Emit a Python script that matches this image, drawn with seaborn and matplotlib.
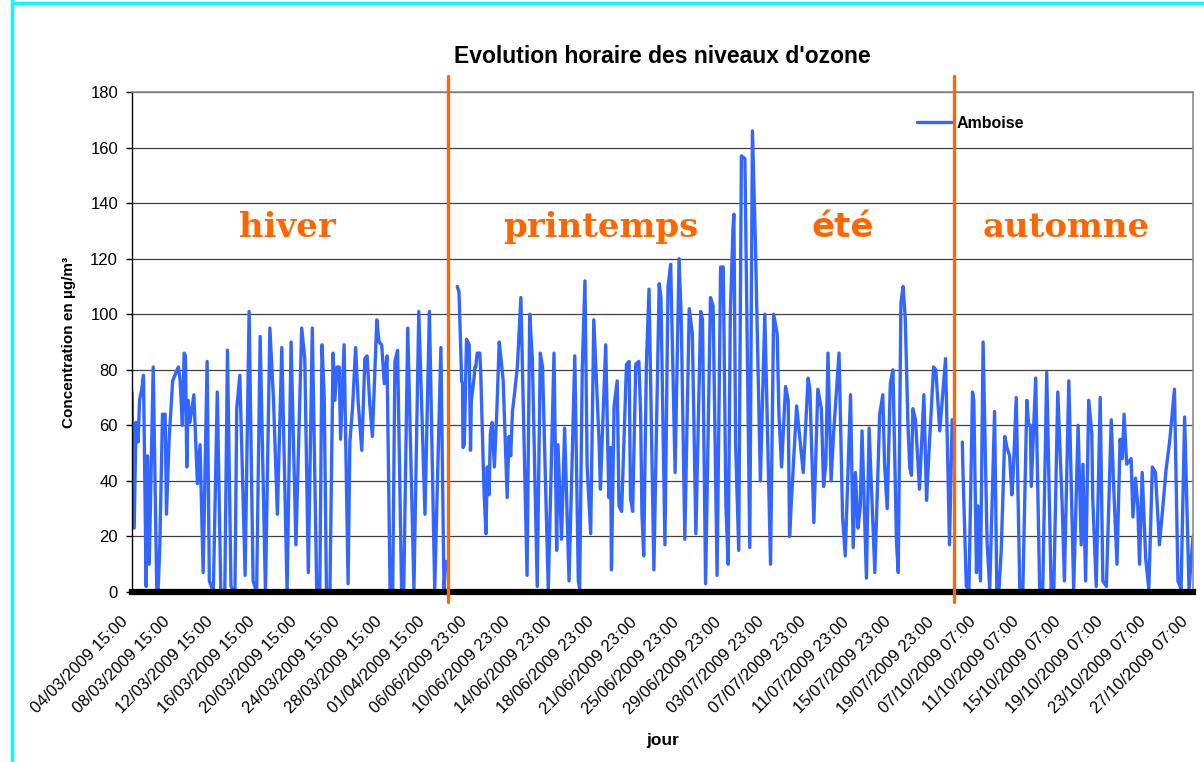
import matplotlib
matplotlib.use("Agg")
import matplotlib.pyplot as plt
from matplotlib.lines import Line2D
import matplotlib.transforms as mtransforms
import seaborn as sns
import pandas as pd

# ---------------- data ----------------
# hour index along the category axis (first point = 04/03/2009 15:00)
hiver_heures = [0, 5, 9, 14, 17, 22, 26, 32, 35, 39, 48, 56, 59, 63, 69, 75, 78, 84, 92, 97,
                105, 109, 114, 118, 121, 124, 127, 131, 140, 148, 154, 161, 170, 175, 184, 193, 201, 210, 216, 224,
                233, 237, 244, 256, 265, 274, 282, 290, 302, 312, 320, 329, 339, 351, 360, 371, 384, 391, 399, 408,
                418, 425, 430, 435, 440, 448, 455, 459, 464, 469, 472, 480, 489, 493, 499, 506, 512, 520, 527, 532,
                538, 544, 554, 559, 565, 571, 577, 584, 590, 595, 601, 610, 615, 624, 638, 649, 663, 673, 685, 699,
                706, 710]
hiver_valeurs = [72, 23, 61, 54, 69, 73, 78, 2, 49, 10, 81, 1, 0, 17, 64, 64, 28, 55, 76, 78,
                 81, 76, 60, 86, 85, 45, 69, 61, 71, 39, 53, 7, 83, 4, 0, 72, 0, 0, 87, 2,
                 0, 66, 78, 6, 101, 4, 0, 92, 0, 95, 70, 28, 88, 0, 90, 17, 95, 84, 7, 95,
                 1, 1, 89, 70, 1, 1, 86, 69, 81, 81, 55, 89, 3, 54, 66, 88, 68, 51, 84, 85,
                 68, 56, 98, 90, 89, 75, 85, 1, 1, 83, 87, 1, 1, 95, 1, 101, 28, 101, 1, 88,
                 1, 11]

printemps_ete_heures = [736, 740, 746, 748, 749, 752, 757, 763, 766, 768, 774, 776, 778, 781, 787, 789, 795, 797, 801, 804,
                        808, 811, 815, 820, 826, 831, 835, 840, 849, 853, 857, 861, 866, 872, 880, 894, 900, 906, 917, 924,
                        929, 942, 955, 961, 964, 972, 979, 989, 1002, 1010, 1013, 1019, 1025, 1030, 1038, 1045, 1057, 1060, 1064, 1072,
                        1079, 1083, 1085, 1091, 1098, 1102, 1108, 1119, 1125, 1128, 1133, 1140, 1147, 1151, 1154, 1158, 1164, 1170, 1181, 1193,
                        1197, 1206, 1213, 1219, 1229, 1238, 1243, 1251, 1261, 1268, 1276, 1287, 1291, 1298, 1309, 1315, 1324, 1332, 1338, 1344,
                        1349, 1354, 1360, 1362, 1366, 1373, 1379, 1387, 1398, 1404, 1411, 1422, 1432, 1445, 1452, 1460, 1464, 1470, 1479, 1485,
                        1488, 1494, 1504, 1519, 1530, 1534, 1543, 1552, 1560, 1565, 1570, 1575, 1582, 1588, 1600, 1608, 1614, 1626, 1632, 1637,
                        1643, 1648, 1652, 1662, 1668, 1673, 1681, 1686, 1692, 1699, 1703, 1709, 1716, 1722, 1730, 1734, 1740, 1745, 1750, 1756,
                        1760, 1764, 1767, 1773, 1782, 1792, 1798, 1803, 1814, 1819, 1828, 1841, 1850, 1856]
printemps_ete_valeurs = [110, 108, 76, 75, 52, 53, 91, 89, 51, 69, 77, 81, 81, 86, 86, 80, 45, 35, 21, 45,
                         35, 57, 61, 45, 67, 90, 84, 76, 34, 56, 49, 65, 72, 81, 106, 6, 100, 84, 2, 86,
                         81, 1, 86, 15, 53, 19, 59, 4, 85, 4, 1, 81, 112, 45, 21, 98, 54, 37, 55, 89,
                         34, 52, 8, 67, 76, 31, 29, 82, 83, 34, 29, 82, 83, 64, 28, 13, 82, 109, 8, 111,
                         106, 17, 110, 118, 43, 120, 98, 19, 102, 93, 21, 101, 98, 3, 106, 103, 6, 117, 117, 31,
                         10, 100, 131, 136, 53, 15, 157, 156, 16, 166, 124, 40, 100, 10, 100, 93, 64, 45, 74, 69,
                         20, 38, 67, 43, 77, 73, 25, 73, 66, 38, 46, 86, 40, 58, 86, 27, 13, 71, 16, 43,
                         23, 31, 58, 5, 59, 39, 7, 33, 64, 71, 46, 30, 75, 80, 18, 7, 104, 110, 98, 60,
                         45, 42, 66, 62, 37, 71, 33, 49, 81, 80, 58, 84, 17, 62]

automne_heures = [1879, 1880, 1888, 1894, 1902, 1905, 1911, 1914, 1920, 1926, 1935, 1941, 1952, 1957, 1962, 1967, 1975, 1980, 1986, 1991,
                  1994, 2001, 2009, 2016, 2025, 2029, 2033, 2035, 2045, 2054, 2061, 2070, 2080, 2086, 2095, 2105, 2110, 2120, 2131, 2141,
                  2148, 2152, 2158, 2165, 2172, 2174, 2182, 2191, 2197, 2205, 2216, 2222, 2229, 2236, 2241, 2245, 2251, 2261, 2265, 2271,
                  2276, 2280, 2286, 2294, 2301, 2309, 2316, 2325, 2333, 2340, 2348, 2359, 2367, 2374, 2382, 2392, 2401]
automne_valeurs = [54, 46, 2, 1, 72, 69, 7, 31, 4, 90, 18, 1, 65, 1, 1, 15, 56, 52, 49, 35,
                   42, 70, 1, 1, 69, 60, 60, 38, 77, 1, 1, 79, 1, 1, 72, 31, 4, 76, 1, 60,
                   17, 46, 4, 69, 57, 34, 2, 70, 4, 2, 62, 36, 10, 55, 48, 64, 46, 48, 27, 41,
                   31, 10, 43, 12, 1, 45, 43, 17, 31, 44, 54, 73, 4, 1, 63, 1, 20]

etiquettes_x = ["04/03/2009 15:00", "08/03/2009 15:00", "12/03/2009 15:00", "16/03/2009 15:00",
                "20/03/2009 15:00", "24/03/2009 15:00", "28/03/2009 15:00", "01/04/2009 15:00",
                "06/06/2009 23:00", "10/06/2009 23:00", "14/06/2009 23:00", "18/06/2009 23:00",
                "21/06/2009 23:00", "25/06/2009 23:00", "29/06/2009 23:00", "03/07/2009 23:00",
                "07/07/2009 23:00", "11/07/2009 23:00", "15/07/2009 23:00", "19/07/2009 23:00",
                "07/10/2009 07:00", "11/10/2009 07:00", "15/10/2009 07:00", "19/10/2009 07:00",
                "23/10/2009 07:00", "27/10/2009 07:00"]
pas_etiquettes = 96          # one label every 96 hourly categories
frontieres_saisons = [714, 1861]
saisons = ["hiver", "printemps", "été", "automne"]
saisons_x = [351, 1061, 1608, 2115]
nom_station = "Amboise"

# ---------------- style ----------------
sns.set_theme(style="white")
plt.rcParams["font.family"] = ["Liberation Sans", "DejaVu Sans"]
plt.rcParams["text.color"] = "black"
plt.rcParams["axes.labelcolor"] = "black"
plt.rcParams["xtick.color"] = "black"
plt.rcParams["ytick.color"] = "black"

BLEU = "#3366FF"
ORANGE = "#FF6600"

segments = [("hiver", hiver_heures, hiver_valeurs),
            ("printemps_ete", printemps_ete_heures, printemps_ete_valeurs),
            ("automne", automne_heures, automne_valeurs)]
df = pd.concat([pd.DataFrame({"heure": h, "ozone": v, "segment": s}) for s, h, v in segments],
               ignore_index=True)

fig = plt.figure(figsize=(12.04, 7.62), dpi=100)
ax = fig.add_axes([132 / 1204, 1 - 592 / 762, 1061 / 1204, 500 / 762])

sns.lineplot(data=df, x="heure", y="ozone", units="segment", estimator=None, sort=False,
             color=BLEU, linewidth=2.4, ax=ax, legend=False)

ax.set_xlim(0, 2401)
ax.set_ylim(0, 180)
ax.set_yticks(range(0, 181, 20))
ax.set_xticks(range(0, pas_etiquettes * len(etiquettes_x), pas_etiquettes))
ax.set_xticklabels(etiquettes_x, rotation=45, ha="right", rotation_mode="anchor", fontsize=12,
                   color="black")
ax.tick_params(axis="x", length=0, pad=16)
ax.tick_params(axis="y", direction="out", length=4, width=1, color="black", pad=6, labelsize=12,
               left=True, labelcolor="black")
# shift the rotated date labels slightly to the left, as in the original
decalage = mtransforms.ScaledTranslation(-12 / 100, 0, fig.dpi_scale_trans)
for lab in ax.get_xticklabels():
    lab.set_transform(lab.get_transform() + decalage)

ax.yaxis.grid(True, color="#404040", linewidth=0.9)
ax.xaxis.grid(False)
ax.set_axisbelow(True)

for side in ["top", "right"]:
    ax.spines[side].set_color("#8c8c8c")
    ax.spines[side].set_linewidth(1.2)
ax.spines["left"].set_color("black")
ax.spines["left"].set_linewidth(1.0)
ax.spines["bottom"].set_color("black")
ax.spines["bottom"].set_linewidth(4.5)
ax.spines["bottom"].set_zorder(4)

for xf in frontieres_saisons:
    ax.axvline(xf, ymin=-0.02, ymax=1.032, color=ORANGE, linewidth=2.4, clip_on=False, zorder=6)

for nom, xs in zip(saisons, saisons_x):
    if nom == "été":
        fam = ["DejaVu Sans"]
    else:
        fam = ["DejaVu Serif"]
    ax.text(xs, 127.8, nom, ha="center", va="baseline", color=ORANGE, fontsize=24.5,
            fontweight="bold", family=fam, zorder=7)

ax.set_title("Evolution horaire des niveaux d'ozone", fontsize=16.5, fontweight="bold", pad=21,
             color="black")
ax.set_xlabel("jour", fontsize=12.5, fontweight="bold", labelpad=12, color="black")
ax.set_ylabel("Concentration en µg/m³", fontsize=11, fontweight="bold", labelpad=10, color="black")

leg = ax.legend(handles=[Line2D([0], [0], color=BLEU, linewidth=2.4)], labels=[nom_station],
                loc="center left", bbox_to_anchor=(0.740, 0.938), frameon=False,
                handlelength=2.25, handletextpad=0.25, borderpad=0, borderaxespad=0,
                prop={"weight": "bold", "size": 11.5})
for t in leg.get_texts():
    t.set_color("black")

# cyan frame edges of the original picture
fig.add_artist(Line2D([12 / 1204, 12 / 1204], [0, 1], color="#00FFFF", linewidth=2.5))
fig.add_artist(Line2D([12 / 1204, 1], [1 - 2.5 / 762, 1 - 2.5 / 762], color="#00FFFF", linewidth=2.5))

fig.savefig("out.png", dpi=100)
